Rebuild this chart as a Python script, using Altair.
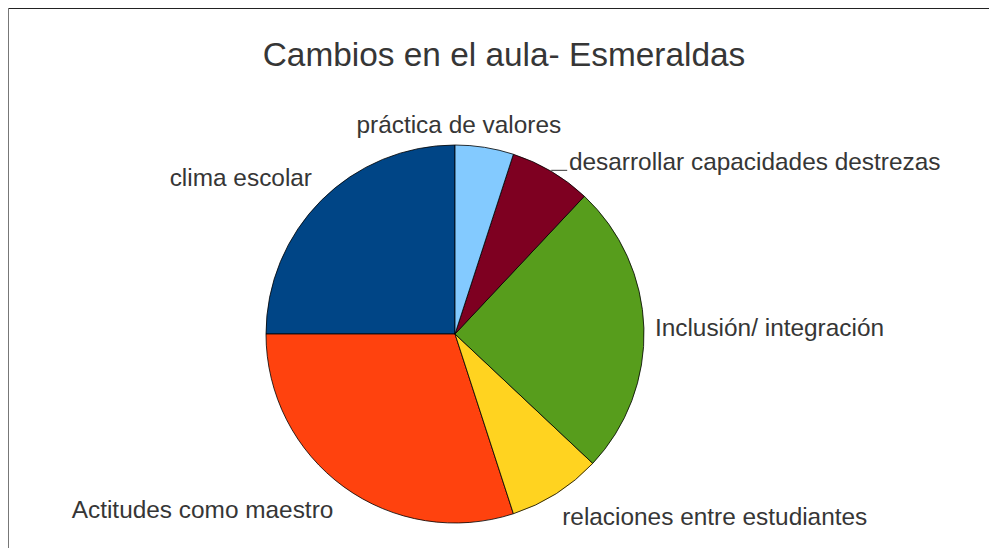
import altair as alt
import pandas as pd

# ---- data ----
categorias = [
    "clima escolar",
    "Actitudes como maestro",
    "relaciones entre estudiantes",
    "Inclusión/ integración",
    "desarrollar capacidades destrezas",
    "práctica de valores",
]
valores = [25, 30, 8, 25, 7, 5]
colores = ["#004586", "#ff420e", "#ffd320", "#579d1c", "#7e0021", "#83caff"]
titulo = "Cambios en el aula- Esmeraldas"

df = pd.DataFrame({"categoria": categorias, "valor": valores, "orden": list(range(len(categorias)))})

# ---- layout ----
W, H = 981, 540
CX, CY, R = 447, 326, 189
FONT = "Liberation Sans"
TXT = "#363636"

# label placement: align, radius, dx, dy
etiquetas = {
    "práctica de valores": ("center", 203.5, -28, 0),
    "desarrollar capacidades destrezas": ("left", 190.5, 17, 0),
    "Inclusión/ integración": ("left", 200, 0, 8),
    "relaciones entre estudiantes": ("left", 226.2, -14, 0),
    "Actitudes como maestro": ("right", 227.4, 12, 0),
    "clima escolar": ("right", 209.3, 5, 0),
}

base = alt.Chart(df)

pie = base.mark_arc(radius=R, stroke="#000000", strokeWidth=0.8).encode(
    theta=alt.Theta("valor:Q", stack=True),
    order=alt.Order("orden:Q", sort="descending"),
    color=alt.Color("categoria:N", scale=alt.Scale(domain=categorias, range=colores), legend=None),
    x=alt.value(CX),
    y=alt.value(CY),
)

polar = (
    base.transform_joinaggregate(total="sum(valor)")
    .transform_window(
        acum="sum(valor)",
        sort=[alt.SortField("orden", order="descending")],
        frame=[None, 0],
    )
    .transform_calculate(medio="2*PI*(datum.acum - datum.valor/2)/datum.total")
)

capas = [pie]
for cat, (al, rr, ddx, ddy) in etiquetas.items():
    capas.append(
        polar.transform_filter(alt.datum.categoria == cat)
        .mark_text(
            align=al, baseline="alphabetic", radius=rr, dx=ddx, dy=ddy,
            fontSize=24.4, font=FONT, color=TXT,
        )
        .encode(
            text="categoria:N",
            theta=alt.Theta("medio:Q", scale=None),
            x=alt.value(CX),
            y=alt.value(CY),
        )
    )

guia = (
    polar.transform_filter(alt.datum.categoria == "desarrollar capacidades destrezas")
    .transform_calculate(
        lx=f"{CX} + {R}*sin(datum.medio)",
        ly=f"{CY} - {R}*cos(datum.medio) - 1",
    )
    .transform_calculate(lx2="datum.lx + 16")
    .mark_rule(color=TXT, strokeWidth=1)
    .encode(
        x=alt.X("lx:Q", scale=None, axis=None),
        x2="lx2:Q",
        y=alt.Y("ly:Q", scale=None, axis=None),
    )
)
capas.append(guia)

titulo_capa = (
    alt.Chart(pd.DataFrame({"t": [titulo]}))
    .mark_text(fontSize=33.4, font=FONT, color=TXT, align="center", baseline="alphabetic")
    .encode(text="t:N", x=alt.value(496), y=alt.value(58))
)
capas.append(titulo_capa)

# chart frame (top and left edges visible in the reference)
marco_sup = alt.Chart(pd.DataFrame({"k": [0]})).mark_rule(color="#222222", strokeWidth=1).encode(
    x=alt.value(0), x2=alt.value(W), y=alt.value(0.5)
)
marco_izq = alt.Chart(pd.DataFrame({"k": [0]})).mark_rule(color="#777777", strokeWidth=1).encode(
    x=alt.value(0.5), y=alt.value(0), y2=alt.value(H)
)
capas += [marco_sup, marco_izq]

chart = (
    alt.layer(*capas)
    .properties(width=W, height=H, padding=0, autosize="none")
    .configure_view(stroke=None)
)

chart.save("out.html", embed_options={"renderer": "svg", "actions": False})
